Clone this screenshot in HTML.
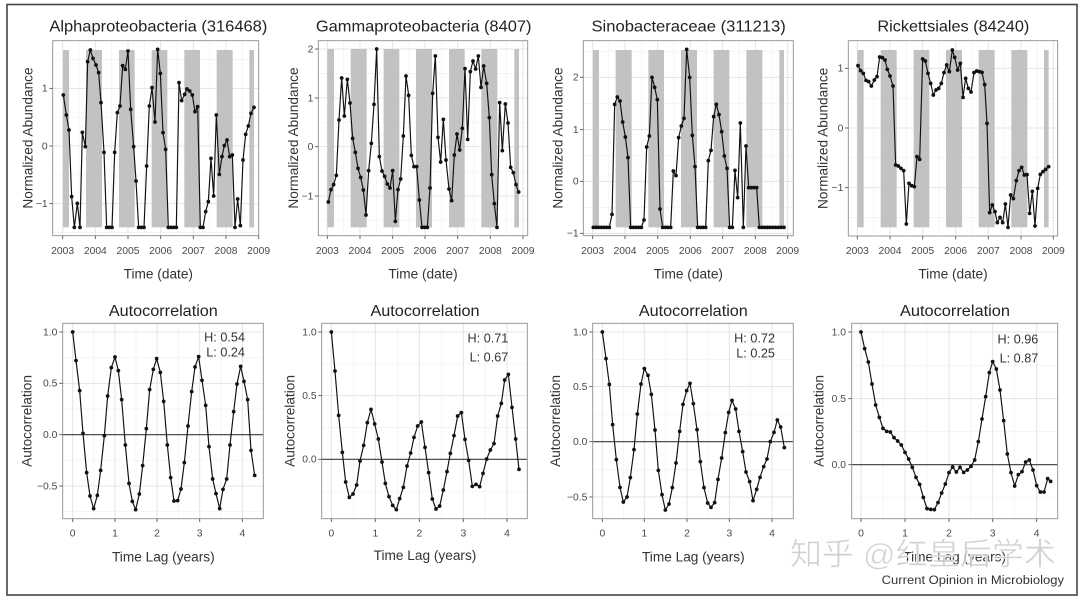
<!DOCTYPE html>
<html><head><meta charset="utf-8">
<style>
html,body{margin:0;padding:0;background:#fff;}
svg{display:block;font-family:"Liberation Sans",Arial,sans-serif;}
.gmaj{stroke:#e4e4e4;stroke-width:3;fill:none}
.gmin{stroke:#f1f1f1;stroke-width:2;fill:none}
.frame{fill:none;stroke:#9a9a9a;stroke-width:3}
.bar{fill:#c2c2c2}
.tick{stroke:#666;stroke-width:3;fill:none}
.zero{stroke:#3a3a3a;stroke-width:3.5}
.tl{font-size:31px;fill:#4a4a4a}
.ttl{font-size:48px;fill:#222}
.ax{font-size:41px;fill:#333}
.hl{font-size:38px;fill:#333}
.ser{fill:none;stroke:#111;stroke-width:3.5;stroke-linejoin:round;marker-start:url(#d);marker-mid:url(#d);marker-end:url(#d)}
</style></head>
<body>
<svg width="1080" height="601" viewBox="0 0 1080 601" xmlns="http://www.w3.org/2000/svg">
<defs>
<marker id="d" viewBox="-7 -7 14 14" markerWidth="14" markerHeight="14" refX="0" refY="0" markerUnits="userSpaceOnUse"><circle r="5.6" fill="#111"/></marker>
</defs>
<rect x="0" y="0" width="1080" height="601" fill="#fff"/>
<rect x="7" y="4.5" width="1070" height="590.5" fill="none" stroke="#444" stroke-width="1.6"/>

<!-- Panel A: Alphaproteobacteria -->
<g transform="translate(0,0) scale(0.33333)">
<rect x="158" y="122" width="618" height="585" fill="#fff"/>
<path class="gmin" d="M237 122V707M335 122V707M433 122V707M531 122V707M629 122V707M727 122V707M158 178.5H776M158 351.5H776M158 524.5H776M158 697.5H776"/>
<path class="gmaj" d="M188 122V707M286 122V707M384 122V707M482 122V707M580 122V707M678 122V707M158 265H776M158 438H776M158 611H776"/>
<rect class="bar" x="189" y="150" width="18" height="532"/>
<rect class="bar" x="258" y="150" width="48" height="532"/>
<rect class="bar" x="357" y="150" width="47" height="532"/>
<rect class="bar" x="455" y="150" width="47" height="532"/>
<rect class="bar" x="553" y="150" width="47" height="532"/>
<rect class="bar" x="650" y="150" width="48" height="532"/>
<rect class="bar" x="748" y="150" width="14" height="532"/>
<rect class="frame" x="158" y="122" width="618" height="585"/>
<polyline class="ser" points="190,285 199,345 207,390 215,590 223,682 232,610 240,682 247,397 256,440 263,185 271,150 279,175 288,195 296,218 303,308 312,457 320,682 328,682 336,682 344,457 352,338 360,318 368,197 376,208 384,153 392,328 401,440 408,543 416,682 424,682 432,682 440,498 448,318 456,263 465,366 473,148 481,220 489,398 497,448 505,682 513,682 521,682 529,682 537,248 545,302 554,283 561,267 569,273 577,285 585,335 593,320 601,682 609,682 617,635 625,605 633,475 641,588 649,345 658,523 666,470 673,437 681,420 689,470 697,465 705,682 713,597 721,677 729,480 737,403 745,378 753,340 762,322"/>
<path class="tick" d="M188 707v10M286 707v10M384 707v10M482 707v10M580 707v10M678 707v10M776 707v10M148 265h10M148 438h10M148 611h10"/>
<g class="tl" text-anchor="end"><text x="143" y="275">1</text><text x="143" y="448">0</text><text x="143" y="621">−1</text></g>
<g class="tl" text-anchor="middle"><text x="188" y="762">2003</text><text x="286" y="762">2004</text><text x="384" y="762">2005</text><text x="482" y="762">2006</text><text x="580" y="762">2007</text><text x="678" y="762">2008</text><text x="776" y="762">2009</text></g>
<text class="ttl" x="475" y="95" text-anchor="middle" textLength="654" lengthAdjust="spacingAndGlyphs">Alphaproteobacteria (316468)</text>
<text class="ax" x="475" y="835" text-anchor="middle">Time (date)</text>
<text class="ax" transform="translate(97,414) rotate(-90)" text-anchor="middle">Normalized Abundance</text>
</g>

<!-- Panel C: Gammaproteobacteria -->
<g transform="translate(270,0) scale(0.33333)">
<rect x="145" y="122" width="628" height="585" fill="#fff"/>
<path class="gmin" d="M221 122V707M319 122V707M416.5 122V707M514 122V707M612 122V707M710 122V707M145 220.5H773M145 367H773M145 514H773M145 661H773"/>
<path class="gmaj" d="M172 122V707M270 122V707M368 122V707M465 122V707M563 122V707M661 122V707M759 122V707M145 147H773M145 294H773M145 440H773M145 588H773"/>
<rect class="bar" x="172" y="147" width="20" height="535"/>
<rect class="bar" x="242" y="147" width="48" height="535"/>
<rect class="bar" x="341" y="147" width="47" height="535"/>
<rect class="bar" x="438" y="147" width="48" height="535"/>
<rect class="bar" x="537" y="147" width="47" height="535"/>
<rect class="bar" x="634" y="147" width="48" height="535"/>
<rect class="bar" x="733" y="147" width="14" height="535"/>
<rect class="frame" x="145" y="122" width="628" height="585"/>
<polyline class="ser" points="175,606 183,569 191,554 199,526 207,360 215,234 223,348 232,238 240,309 248,415 256,457 264,505 272,532 280,570 288,645 296,512 304,430 312,313 320,147 328,470 336,513 344,529 352,552 360,564 368,512 376,664 384,569 392,537 400,408 408,228 416,286 424,466 432,500 440,500 448,600 456,682 464,682 472,682 480,564 488,280 496,168 504,412 512,486 520,358 528,480 537,567 545,602 553,465 561,402 569,450 577,385 585,206 593,418 601,215 609,183 617,207 625,168 633,262 641,198 650,250 658,353 665,524 673,611 681,682 689,308 697,452 706,312 714,369 722,502 730,518 738,554 746,576"/>
<path class="tick" d="M172 707v10M270 707v10M368 707v10M465 707v10M563 707v10M661 707v10M759 707v10M135 147h10M135 294h10M135 440h10M135 588h10"/>
<g class="tl" text-anchor="end"><text x="130" y="157">2</text><text x="130" y="304">1</text><text x="130" y="450">0</text><text x="130" y="598">−1</text></g>
<g class="tl" text-anchor="middle"><text x="172" y="762">2003</text><text x="270" y="762">2004</text><text x="368" y="762">2005</text><text x="465" y="762">2006</text><text x="563" y="762">2007</text><text x="661" y="762">2008</text><text x="759" y="762">2009</text></g>
<text class="ttl" x="461" y="95" text-anchor="middle" textLength="647" lengthAdjust="spacingAndGlyphs">Gammaproteobacteria (8407)</text>
<text class="ax" x="459" y="835" text-anchor="middle">Time (date)</text>
<text class="ax" transform="translate(84,414) rotate(-90)" text-anchor="middle">Normalized Abundance</text>
</g>

<!-- Panel D: Sinobacteraceae -->
<g transform="translate(530,0) scale(0.33333)">
<rect x="160" y="122" width="630" height="585" fill="#fff"/>
<path class="gmin" d="M236.5 122V707M334 122V707M432 122V707M529.5 122V707M627 122V707M724.5 122V707M160 154H790M160 310H790M160 466H790M160 622H790"/>
<path class="gmaj" d="M188 122V707M285 122V707M383 122V707M481 122V707M578 122V707M676 122V707M773 122V707M160 232H790M160 389H790M160 544H790M160 700H790"/>
<rect class="bar" x="189" y="150" width="18" height="532"/>
<rect class="bar" x="257" y="150" width="48" height="532"/>
<rect class="bar" x="355" y="150" width="47" height="532"/>
<rect class="bar" x="453" y="150" width="48" height="532"/>
<rect class="bar" x="551" y="150" width="47" height="532"/>
<rect class="bar" x="649" y="150" width="48" height="532"/>
<rect class="bar" x="748" y="150" width="14" height="532"/>
<rect class="frame" x="160" y="122" width="630" height="585"/>
<polyline class="ser" points="190,682 198,682 206,682 214,682 222,682 230,682 238,682 246,643 254,313 262,291 270,303 278,366 286,411 294,473 302,682 310,682 318,682 326,682 334,682 342,660 350,441 358,408 366,232 374,262 382,299 390,627 398,682 406,682 414,682 422,682 430,513 438,527 446,413 454,378 462,355 470,148 479,232 487,406 495,500 503,682 511,682 519,682 527,682 535,482 543,451 551,350 559,313 567,344 575,395 583,468 591,505 599,682 607,682 615,511 623,593 631,369 640,682 648,438 656,563 664,563 672,563 680,563 688,682 696,682 704,682 712,682 720,682 729,682 737,682 745,682 753,682 762,682"/>
<path class="tick" d="M188 707v10M285 707v10M383 707v10M481 707v10M578 707v10M676 707v10M773 707v10M150 232h10M150 389h10M150 544h10M150 700h10"/>
<g class="tl" text-anchor="end"><text x="146" y="242">2</text><text x="146" y="399">1</text><text x="146" y="554">0</text><text x="146" y="710">−1</text></g>
<g class="tl" text-anchor="middle"><text x="188" y="762">2003</text><text x="285" y="762">2004</text><text x="383" y="762">2005</text><text x="481" y="762">2006</text><text x="578" y="762">2007</text><text x="676" y="762">2008</text><text x="773" y="762">2009</text></g>
<text class="ttl" x="476" y="95" text-anchor="middle" textLength="583" lengthAdjust="spacingAndGlyphs">Sinobacteraceae (311213)</text>
<text class="ax" x="475" y="835" text-anchor="middle">Time (date)</text>
<text class="ax" transform="translate(98,414) rotate(-90)" text-anchor="middle">Normalized Abundance</text>
</g>

<!-- Panel E: Rickettsiales -->
<g transform="translate(790,0) scale(0.33333)">
<rect x="175" y="122" width="628" height="586" fill="#fff"/>
<path class="gmin" d="M251 122V708M349 122V708M447.5 122V708M546 122V708M644 122V708M741.5 122V708M175 294.5H803M175 473.5H803M175 652.5H803"/>
<path class="gmaj" d="M202 122V708M300 122V708M398 122V708M497 122V708M595 122V708M693 122V708M790 122V708M175 205H803M175 384H803M175 563H803"/>
<rect class="bar" x="202" y="150" width="19" height="532"/>
<rect class="bar" x="272" y="150" width="48" height="532"/>
<rect class="bar" x="371" y="150" width="47" height="532"/>
<rect class="bar" x="468" y="150" width="48" height="532"/>
<rect class="bar" x="566" y="150" width="48" height="532"/>
<rect class="bar" x="664" y="150" width="48" height="532"/>
<rect class="bar" x="762" y="150" width="14" height="532"/>
<rect class="frame" x="175" y="122" width="628" height="586"/>
<polyline class="ser" points="204,197 212,212 220,220 228,241 236,245 244,258 253,240 261,230 269,171 277,173 285,180 292,208 300,228 309,258 317,495 325,498 333,505 341,512 349,672 357,550 365,557 373,560 381,470 389,478 398,177 406,183 414,220 422,250 430,285 438,270 446,265 454,250 462,218 470,195 478,215 487,150 494,172 503,210 511,190 519,292 527,235 535,265 543,276 552,218 560,213 568,215 576,217 584,254 591,370 599,638 607,615 615,635 622,668 630,652 638,668 646,612 654,682 662,585 670,596 679,542 687,512 695,502 703,525 711,524 719,640 727,574 735,678 743,565 751,523 759,515 767,508 776,500"/>
<path class="tick" d="M202 708v10M300 708v10M398 708v10M497 708v10M595 708v10M693 708v10M790 708v10M165 205h10M165 384h10M165 563h10"/>
<g class="tl" text-anchor="end"><text x="160" y="215">1</text><text x="160" y="394">0</text><text x="160" y="573">−1</text></g>
<g class="tl" text-anchor="middle"><text x="202" y="762">2003</text><text x="300" y="762">2004</text><text x="398" y="762">2005</text><text x="497" y="762">2006</text><text x="595" y="762">2007</text><text x="693" y="762">2008</text><text x="790" y="762">2009</text></g>
<text class="ttl" x="490" y="95" text-anchor="middle" textLength="456" lengthAdjust="spacingAndGlyphs">Rickettsiales (84240)</text>
<text class="ax" x="489" y="835" text-anchor="middle">Time (date)</text>
<text class="ax" transform="translate(113,415) rotate(-90)" text-anchor="middle">Normalized Abundance</text>
</g>

<!-- Panel B: Autocorrelation 1 -->
<g transform="translate(0,290) scale(0.33333)">
<rect x="188" y="100" width="602" height="586" fill="#fff"/>
<path class="gmin" d="M281.5 100V686M408 100V686M535 100V686M663 100V686M188 203H790M188 357H790M188 511H790M188 665H790"/>
<path class="gmaj" d="M218 100V686M345 100V686M471 100V686M599 100V686M727 100V686M188 126H790M188 280H790M188 588H790"/>
<path class="zero" d="M188 434H790"/>
<rect class="frame" x="188" y="100" width="602" height="586"/>
<polyline class="ser" points="218,126 228,212 239,302 249,430 260,548 270,618 281,656 292,616 302,541 313,437 323,318 334,233 345,201 355,242 365,329 376,465 387,580 397,634 407,659 418,612 428,527 439,416 449,299 460,238 470,206 481,247 491,334 502,465 512,563 522,633 533,632 543,597 553,518 564,408 575,305 585,231 596,200 606,271 617,346 627,470 638,567 648,611 659,656 669,598 680,567 690,465 701,365 711,282 722,229 732,274 743,329 753,481 764,556"/>
<path class="tick" d="M218 686v10M345 686v10M471 686v10M599 686v10M727 686v10M178 126h10M178 280h10M178 434h10M178 588h10"/>
<g class="tl" text-anchor="end"><text x="172" y="136">1.0</text><text x="172" y="290">0.5</text><text x="172" y="444">0.0</text><text x="172" y="598">−0.5</text></g>
<g class="tl" text-anchor="middle"><text x="218" y="740">0</text><text x="345" y="740">1</text><text x="471" y="740">2</text><text x="599" y="740">3</text><text x="727" y="740">4</text></g>
<g class="hl" text-anchor="end"><text x="735" y="155">H: 0.54</text><text x="735" y="200">L: 0.24</text></g>
<text class="ttl" x="490" y="78" text-anchor="middle" textLength="327" lengthAdjust="spacingAndGlyphs">Autocorrelation</text>
<text class="ax" x="490" y="815" text-anchor="middle">Time Lag (years)</text>
<text class="ax" transform="translate(94,393) rotate(-90)" text-anchor="middle">Autocorrelation</text>
</g>

<!-- Panel F: Autocorrelation 2 -->
<g transform="translate(270,290) scale(0.33333)">
<rect x="155" y="100" width="617" height="586" fill="#fff"/>
<path class="gmin" d="M250 100V686M382 100V686M514 100V686M645.5 100V686M155 221.5H772M155 412.5H772M155 603.5H772"/>
<path class="gmaj" d="M184 100V686M316 100V686M448 100V686M580 100V686M711 100V686M155 126H772M155 317H772"/>
<path class="zero" d="M155 508H772"/>
<rect class="frame" x="155" y="100" width="617" height="586"/>
<polyline class="ser" points="184,126 195,243 206,376 217,487 227,576 238,622 249,612 260,585 270,513 281,466 292,398 303,358 314,402 325,447 336,516 346,580 357,620 368,646 379,659 389,626 400,592 411,528 422,489 432,442 443,408 454,396 465,472 476,548 487,627 498,657 509,648 520,600 531,545 541,490 552,437 563,378 574,368 585,448 596,511 607,589 618,583 629,590 639,550 650,507 661,480 672,461 683,378 694,340 704,270 715,253 726,352 737,447 747,538"/>
<path class="tick" d="M184 686v10M316 686v10M448 686v10M580 686v10M711 686v10M145 126h10M145 317h10M145 508h10"/>
<g class="tl" text-anchor="end"><text x="140" y="136">1.0</text><text x="140" y="327">0.5</text><text x="140" y="518">0.0</text></g>
<g class="tl" text-anchor="middle"><text x="184" y="740">0</text><text x="316" y="740">1</text><text x="448" y="740">2</text><text x="580" y="740">3</text><text x="711" y="740">4</text></g>
<g class="hl" text-anchor="end"><text x="715" y="157">H: 0.71</text><text x="715" y="215">L: 0.67</text></g>
<text class="ttl" x="465" y="78" text-anchor="middle" textLength="327" lengthAdjust="spacingAndGlyphs">Autocorrelation</text>
<text class="ax" x="465" y="810" text-anchor="middle">Time Lag (years)</text>
<text class="ax" transform="translate(73,393) rotate(-90)" text-anchor="middle">Autocorrelation</text>
</g>

<!-- Panel G: Autocorrelation 3 -->
<g transform="translate(530,290) scale(0.33333)">
<rect x="188" y="100" width="602" height="586" fill="#fff"/>
<path class="gmin" d="M280 100V686M407 100V686M534.5 100V686M662 100V686M188 208H790M188 372.5H790M188 538H790"/>
<path class="gmaj" d="M217 100V686M343 100V686M471 100V686M598 100V686M726 100V686M188 126H790M188 290H790M188 621H790"/>
<path class="zero" d="M188 455H790"/>
<rect class="frame" x="188" y="100" width="602" height="586"/>
<polyline class="ser" points="217,126 228,206 238,283 248,404 259,509 270,592 280,636 291,621 301,563 312,479 322,372 333,282 343,236 354,256 364,313 375,420 385,541 396,614 406,660 417,642 427,593 438,519 449,424 459,343 470,302 480,280 490,341 501,419 511,515 522,593 533,639 543,652 554,638 564,568 575,504 586,428 596,367 606,331 617,357 627,424 638,485 648,546 659,575 669,632 680,598 690,562 701,530 711,507 721,455 732,427 742,390 752,411 763,473"/>
<path class="tick" d="M217 686v10M343 686v10M471 686v10M598 686v10M726 686v10M178 126h10M178 290h10M178 455h10M178 621h10"/>
<g class="tl" text-anchor="end"><text x="172" y="136">1.0</text><text x="172" y="300">0.5</text><text x="172" y="465">0.0</text><text x="172" y="631">−0.5</text></g>
<g class="tl" text-anchor="middle"><text x="217" y="740">0</text><text x="343" y="740">1</text><text x="471" y="740">2</text><text x="598" y="740">3</text><text x="726" y="740">4</text></g>
<g class="hl" text-anchor="end"><text x="735" y="157">H: 0.72</text><text x="735" y="202">L: 0.25</text></g>
<text class="ttl" x="490" y="78" text-anchor="middle" textLength="327" lengthAdjust="spacingAndGlyphs">Autocorrelation</text>
<text class="ax" x="490" y="815" text-anchor="middle">Time Lag (years)</text>
<text class="ax" transform="translate(90,393) rotate(-90)" text-anchor="middle">Autocorrelation</text>
</g>

<!-- Panel H: Autocorrelation 4 -->
<g transform="translate(790,290) scale(0.33333)">
<rect x="185" y="100" width="618" height="586" fill="#fff"/>
<path class="gmin" d="M279 100V686M411 100V686M542.5 100V686M674 100V686M185 226H803M185 425H803M185 623.5H803"/>
<path class="gmaj" d="M213 100V686M345 100V686M477 100V686M608 100V686M740 100V686M185 126H803M185 326H803"/>
<path class="zero" d="M185 524H803"/>
<rect class="frame" x="185" y="100" width="618" height="586"/>
<polyline class="ser" points="213,126 224,176 235,216 246,282 257,345 268,382 279,415 290,424 301,426 312,443 323,453 334,465 345,487 356,507 367,532 378,562 389,583 400,622 411,656 422,658 433,659 444,638 455,609 466,582 477,548 488,531 499,546 510,532 521,547 532,540 543,529 554,510 565,455 576,387 587,320 598,248 608,215 619,237 630,300 641,392 652,492 663,548 674,588 685,554 696,545 707,516 718,510 729,540 740,587 751,606 762,606 773,566 782,574"/>
<path class="tick" d="M213 686v10M345 686v10M477 686v10M608 686v10M740 686v10M175 126h10M175 326h10M175 524h10"/>
<g class="tl" text-anchor="end"><text x="168" y="136">1.0</text><text x="168" y="336">0.5</text><text x="168" y="534">0.0</text></g>
<g class="tl" text-anchor="middle"><text x="213" y="740">0</text><text x="345" y="740">1</text><text x="477" y="740">2</text><text x="608" y="740">3</text><text x="740" y="740">4</text></g>
<g class="hl" text-anchor="end"><text x="745" y="160">H: 0.96</text><text x="745" y="218">L: 0.87</text></g>
<text class="ttl" x="495" y="78" text-anchor="middle" textLength="330" lengthAdjust="spacingAndGlyphs">Autocorrelation</text>
<text class="ax" x="494" y="815" text-anchor="middle">Time Lag (years)</text>
<text class="ax" transform="translate(100,393) rotate(-90)" text-anchor="middle">Autocorrelation</text>
<text x="822" y="882" text-anchor="end" style="font-size:37px;fill:#333" textLength="547" lengthAdjust="spacingAndGlyphs">Current Opinion in Microbiology</text>
</g>

<!-- watermark -->
<text x="790" y="565" style="font-family:'Liberation Sans','Noto Sans CJK SC',sans-serif;font-size:31px;fill:#c9c9c9;fill-opacity:0.85;stroke:#fff;stroke-width:0.6" textLength="266" lengthAdjust="spacingAndGlyphs">知乎 @红皇后学术</text>
</svg>
</body></html>
